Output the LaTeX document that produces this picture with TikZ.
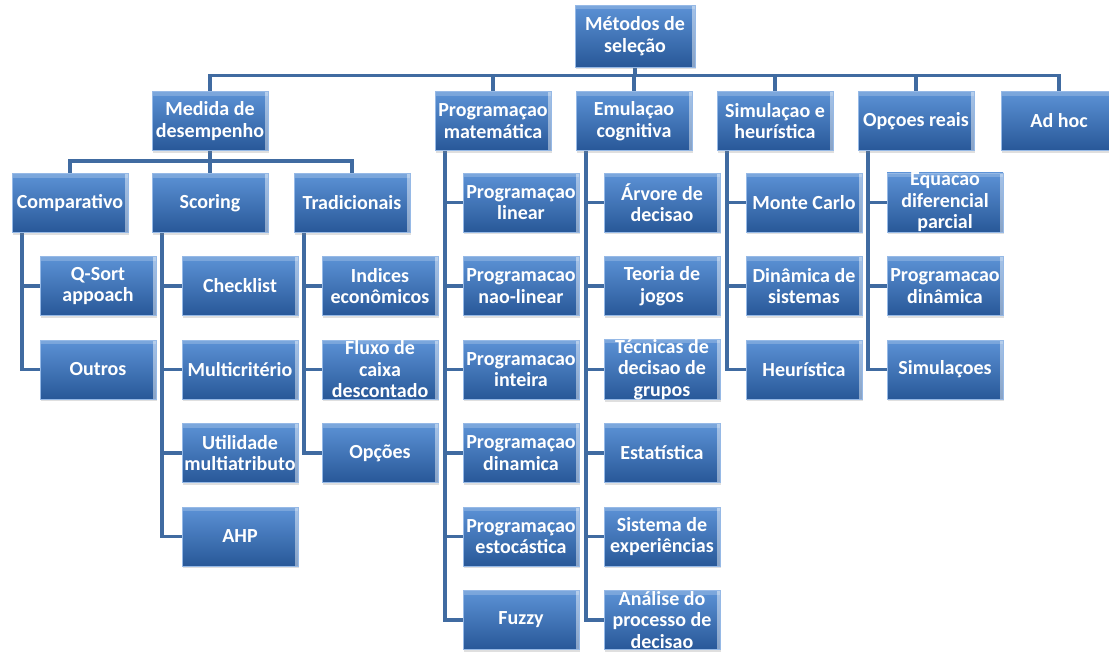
\documentclass[tikz,border=0pt]{standalone}
\usepackage{fontspec}
\setmainfont{Carlito}
\usepackage{tikz}
\usetikzlibrary{backgrounds,shadows}
\definecolor{MetodoBoxTop}{RGB}{92,146,214}
\definecolor{MetodoBoxBottom}{RGB}{40,88,152}
\definecolor{MetodoBoxEdge}{RGB}{150,185,230}
\definecolor{MetodoLink}{RGB}{64,107,161}

\begin{document}
\begin{tikzpicture}[x=1pt,y=-1pt,
  box/.style={rectangle,draw=MetodoBoxEdge,line width=0.8pt,top color=MetodoBoxTop,bottom color=MetodoBoxBottom,
    minimum width=116pt,minimum height=59pt,inner sep=0pt,align=center,text=white,
    font=\bfseries\fontsize{20}{21.5}\selectfont,
    drop shadow={opacity=0.25,shadow xshift=1pt,shadow yshift=-2pt},
    path picture={\fill[white,opacity=0.45] ([xshift=-3pt]path picture bounding box.north east) rectangle (path picture bounding box.south east);
      \fill[white,opacity=0.2] (path picture bounding box.north west) rectangle ([yshift=-4pt]path picture bounding box.north east);}},
  link/.style={draw=MetodoLink,line width=3.5pt}]
\useasboundingbox (0,0) rectangle (1109,651);
\node[box,minimum width=120pt,minimum height=62pt] (metodos) at (635,36) {Métodos de\\seleção};
% primeiro nivel
\node[box] (md) at (210,121) {Medida de\\desempenho};
\node[box] (pm) at (493,121) {Programaçao\\matemática};
\node[box] (ec) at (634,121) {Emulaçao\\cognitiva};
\node[box] (sh) at (775,121) {Simulaçao e\\heurística};
\node[box] (op) at (916,121) {Opçoes reais};
\node[box] (ah) at (1059,121) {Ad hoc};
% medida de desempenho
\node[box] (cp) at (70,203) {Comparativo};
\node[box] (sc) at (210,203) {Scoring};
\node[box] (tr) at (352,203) {Tradicionais};
\begin{scope}[on background layer]
\foreach \n in {md,pm,ec,sh,op,ah} {
   \draw[link] (metodos.south) -- ++(0,8) -| (\n.north);
}
\foreach \n in {cp,sc,tr} {
   \draw[link] (md.south) -- ++(0,10) -| (\n.north);
}
\end{scope}
% folhas
\foreach \p/\x/\r/\lst in {%
   cp/98/2/{{Q-Sort\\appoach},{Outros}},
   sc/240/2/{{Checklist},{Multicritério},{Utilidade\\multiatributo},{AHP}},
   tr/380/2/{{Indices\\econômicos},{Fluxo de\\caixa\\descontado},{Opções}},
   pm/521/1/{{Programaçao\\linear},{Programacao\\nao-linear},{Programacao\\inteira},{Programaçao\\dinamica},{Programaçao\\estocástica},{Fuzzy}},
   ec/662/1/{{Árvore de\\decisao},{Teoria de\\jogos},{Técnicas de\\decisao de\\grupos},{Estatística},{Sistema de\\experiências},{Análise do\\processo de\\decisao}},
   sh/804/1/{{Monte Carlo},{Dinâmica de\\sistemas},{Heurística}},
   op/945/1/{{Equacao\\diferencial\\parcial},{Programacao\\dinâmica},{Simulaçoes}}} {
   \foreach \t [count=\i] in \lst {
      \node[box] (\p\i) at (\x,202.5+83.5*\i+83.5*\r-167) {\t};
      \begin{scope}[on background layer]
         \draw[link] ([xshift=10.5pt]\p.south west) |- (\p\i.west);
      \end{scope}
   }
}
\end{tikzpicture}
\end{document}
